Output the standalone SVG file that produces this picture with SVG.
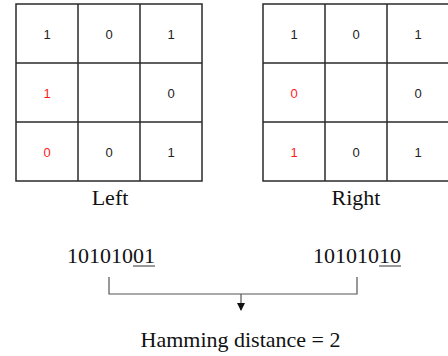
<svg xmlns="http://www.w3.org/2000/svg" width="448" height="356" viewBox="0 0 448 356">
  <style>
    .grid { fill: #fff; stroke: #2a2a2a; stroke-width: 1.5; }
    .gl { stroke: #2a2a2a; stroke-width: 1.5; }
    .d { font-family: "Liberation Sans", Arial, sans-serif; font-size: 13px; fill: #222; text-anchor: middle; }
    .r { fill: #ff1a1a; }
    .t { font-family: "Liberation Serif", "Times New Roman", serif; font-size: 22px; fill: #111; }
    .c { text-anchor: middle; }
    .ul { stroke: #333; stroke-width: 1; }
    .con { stroke: #555; stroke-width: 1.2; fill: none; }
  </style>
  <defs>
    <marker id="ah" markerWidth="8" markerHeight="9" refX="7" refY="4" orient="auto" markerUnits="userSpaceOnUse">
      <path d="M0,0 L8,4 L0,8 Z" fill="#111"/>
    </marker>
  </defs>
  <rect width="448" height="356" fill="#fff"/>

  <g id="left-grid">
    <rect class="grid" x="16" y="4" width="186" height="177"/>
    <line class="gl" x1="78" y1="4" x2="78" y2="181"/>
    <line class="gl" x1="140" y1="4" x2="140" y2="181"/>
    <line class="gl" x1="16" y1="63" x2="202" y2="63"/>
    <line class="gl" x1="16" y1="122" x2="202" y2="122"/>
    <text class="d" x="47" y="38.5">1</text>
    <text class="d" x="109" y="38.5">0</text>
    <text class="d" x="171" y="38.5">1</text>
    <text class="d r" x="47" y="97.5">1</text>
    <text class="d" x="171" y="97.5">0</text>
    <text class="d r" x="47" y="156.5">0</text>
    <text class="d" x="109" y="156.5">0</text>
    <text class="d" x="171" y="156.5">1</text>
  </g>

  <g id="right-grid">
    <rect class="grid" x="263" y="4" width="186" height="177"/>
    <line class="gl" x1="325" y1="4" x2="325" y2="181"/>
    <line class="gl" x1="387" y1="4" x2="387" y2="181"/>
    <line class="gl" x1="263" y1="63" x2="449" y2="63"/>
    <line class="gl" x1="263" y1="122" x2="449" y2="122"/>
    <text class="d" x="294" y="38.5">1</text>
    <text class="d" x="356" y="38.5">0</text>
    <text class="d" x="418" y="38.5">1</text>
    <text class="d r" x="294" y="97.5">0</text>
    <text class="d" x="418" y="97.5">0</text>
    <text class="d r" x="294" y="156.5">1</text>
    <text class="d" x="356" y="156.5">0</text>
    <text class="d" x="418" y="156.5">1</text>
  </g>

  <g id="left-label"><text class="t c" x="110" y="205">Left</text></g>
  <g id="right-label"><text class="t c" x="356" y="205">Right</text></g>

  <g id="left-code">
    <text class="t" x="67" y="263">10101001</text>
    <line class="ul" x1="133" y1="266" x2="155" y2="266"/>
  </g>
  <g id="right-code">
    <text class="t" x="313" y="263">10101010</text>
    <line class="ul" x1="379" y1="266" x2="401" y2="266"/>
  </g>

  <g id="connectors">
    <path class="con" d="M109,277 V294 H357 V277"/>
    <line class="con" x1="241" y1="294" x2="241" y2="310" marker-end="url(#ah)"/>
  </g>

  <g id="result"><text class="t c" x="240.5" y="347">Hamming distance = 2</text></g>
</svg>
